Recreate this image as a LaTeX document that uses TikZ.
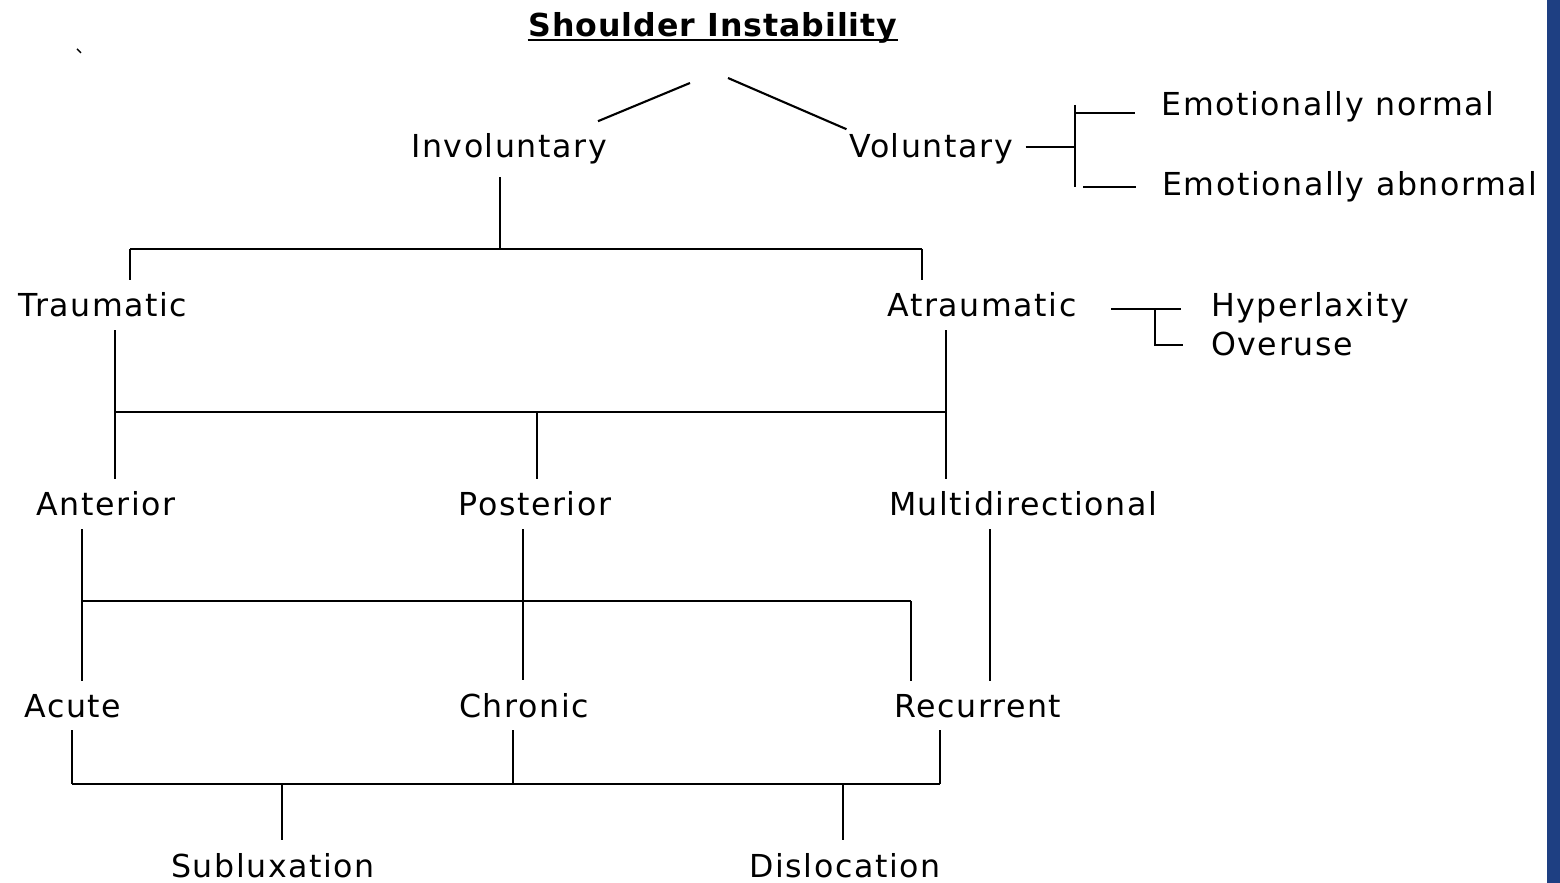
\documentclass[tikz,border=0pt]{standalone}
\usepackage{fontspec}
\setmainfont[LetterSpace=5]{DejaVu Sans}
\newfontfamily\headfont[LetterSpace=3]{DejaVu Sans}
\definecolor{barblue}{HTML}{1E3F82}
\begin{document}
\begin{tikzpicture}[x=0.1mm, y=-0.1mm, line width=0.6pt,
  lbl/.style={anchor=base, font=\fontsize{9}{11}\selectfont}]
  \useasboundingbox (0,0) rectangle (1560,883);
  \fill[barblue] (1547,0) rectangle (1560,883);
  \draw[line width=0.4pt] (77,49) -- (81,53);

  \node[anchor=base, inner sep=0, font=\headfont\bfseries\fontsize{9}{11}\selectfont] (title) at (713,37) {Shoulder Instability};
  \draw ([yshift=-0.3mm]title.base west) -- ([yshift=-0.3mm]title.base east);

  \node[lbl] (invol) at (509,158) {Involuntary};
  \node[lbl] (vol) at (931,158) {Voluntary};
  \node[lbl] (emon) at (1328,116) {Emotionally normal};
  \node[lbl] (emab) at (1350,196) {Emotionally abnormal};
  \node[lbl] (trauma) at (103,317) {Traumatic};
  \node[lbl] (atr) at (982,317) {Atraumatic};
  \node[lbl] (hyp) at (1310,317) {Hyperlaxity};
  \node[lbl] (over) at (1282,356) {Overuse};
  \node[lbl] (anter) at (106,516) {Anterior};
  \node[lbl] (poster) at (535,516) {Posterior};
  \node[lbl] (multi) at (1023,516) {Multidirectional};
  \node[lbl] (acute) at (73,717) {Acute};
  \node[lbl] (chron) at (524,717) {Chronic};
  \node[lbl] (recur) at (978,717) {Recurrent};
  \node[lbl] (sublux) at (273,877) {Subluxation};
  \node[lbl] (disloc) at (845,877) {Dislocation};

  \coordinate (ti) at (690,83);
  \coordinate (tv) at (728,78);
  \draw (ti) -- (invol.north -| 598,0);
  \draw (tv) -- ([shift={(10,8)}]vol.north west);

  \coordinate (vj) at (1075,147);
  \coordinate (vt) at (1075,105);
  \coordinate (vb) at (1075,187);
  \draw (vol.east |- vj) -- (vj);
  \draw (vt) -- (vb);
  \draw[shorten >=1.4mm] (vt |- 0,113) -- (emon.west |- 0,113);
  \draw[shorten <=0.8mm, shorten >=1.4mm] (vb) -- (emab.west |- vb);

  \coordinate (aj) at (1155,309);
  \draw[shorten <=2.2mm, shorten >=1.7mm] (atr.east |- aj) -- (hyp.west |- aj);
  \draw[shorten >=1.5mm] (aj) |- (over.west |- 0,345);

  \coordinate (b1l) at (130,249);
  \coordinate (b1m) at (500,249);
  \coordinate (b1r) at (922,249);
  \draw (b1l) -- (b1r);
  \draw (invol.south -| b1m) -- (b1m);
  \draw (b1l) -- (trauma.north -| b1l);
  \draw (b1r) -- (atr.north -| b1r);

  \coordinate (b2l) at (115,412);
  \coordinate (b2m) at (537,412);
  \coordinate (b2r) at (946,412);
  \draw (b2l) -- (b2r);
  \draw (trauma.south -| b2l) -- (b2l) -- (anter.north -| b2l);
  \draw (b2m) -- (poster.north -| b2m);
  \draw (atr.south -| b2r) -- (b2r) -- (multi.north -| b2r);

  \coordinate (b3l) at (82,601);
  \coordinate (b3m) at (523,601);
  \coordinate (b3r) at (911,601);
  \draw (b3l) -- (b3r);
  \draw (anter.south -| b3l) -- (b3l) -- (acute.north -| b3l);
  \draw (poster.south -| b3m) -- (b3m) -- (chron.north -| b3m);
  \draw (b3r) -- (recur.north -| b3r);
  \draw (multi.south -| 990,0) -- (recur.north -| 990,0);

  \coordinate (b4l) at (72,784);
  \coordinate (b4a) at (282,784);
  \coordinate (b4m) at (513,784);
  \coordinate (b4b) at (843,784);
  \coordinate (b4r) at (940,784);
  \draw (b4l) -- (b4r);
  \draw (acute.south -| b4l) -- (b4l);
  \draw (chron.south -| b4m) -- (b4m);
  \draw (recur.south -| b4r) -- (b4r);
  \draw (b4a) -- (sublux.north -| b4a);
  \draw (b4b) -- (disloc.north -| b4b);
\end{tikzpicture}
\end{document}
